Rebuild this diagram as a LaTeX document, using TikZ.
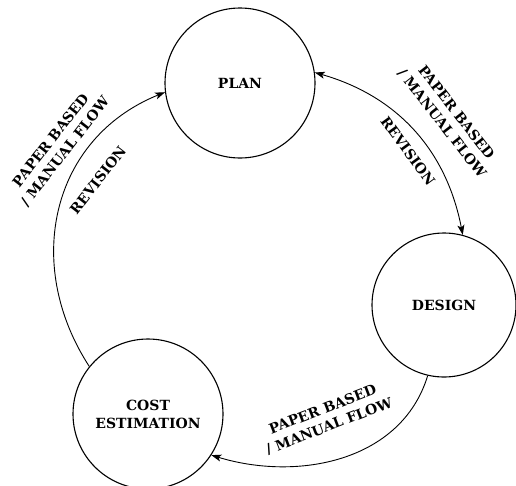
\documentclass[tikz,border=0pt]{standalone}
\usepackage{fontspec}
\usetikzlibrary{arrows.meta}
\newfontfamily\stagefont{DejaVu Serif}
\begin{document}
\begin{tikzpicture}[x=1pt,y=1pt,
  txt/.style={font=\stagefont\bfseries\fontsize{14}{18}\selectfont, align=center},
  phase/.style={txt, draw, circle, line width=1.1pt, minimum size=#1, inner sep=0pt},
  flow/.style={line width=0.9pt},
  tip/.tip={Stealth[length=10pt,width=7pt,inset=2.5pt]},
  lbl/.style={txt, inner sep=0pt}]
\useasboundingbox (0,0) rectangle (516,-485);

% the three phases
\node[phase=150pt] (plan) at (240,-83) {PLAN};
\node[phase=144pt] (design) at (444,-305) {DESIGN};
\node[phase=150pt] (cost) at (148,-414) {COST\\ESTIMATION};

% connectors between the phases
\draw[flow,-tip] (cost.141) to[out=123,in=202,looseness=1.1] (plan.187);
\draw[flow,tip-tip] (plan.8) to[out=-16,in=101] (design.75);
\draw[flow,-tip] (design.-103) to[out=-107,in=-17] (cost.-33);

% labels along the connectors
\node[lbl, rotate=52] (l1) at (58,-146) {PAPER BASED\\/ MANUAL FLOW};
\node[lbl, rotate=52] (r1) at (98,-180) {REVISION};
\node[lbl, rotate=-52] (l2) at (449,-118) {PAPER BASED\\/ MANUAL FLOW};
\node[lbl, rotate=-54] (r2) at (408,-151) {REVISION};
\node[lbl, rotate=21] (l3) at (326,-418) {PAPER BASED\\/ MANUAL FLOW};
\end{tikzpicture}
\end{document}
